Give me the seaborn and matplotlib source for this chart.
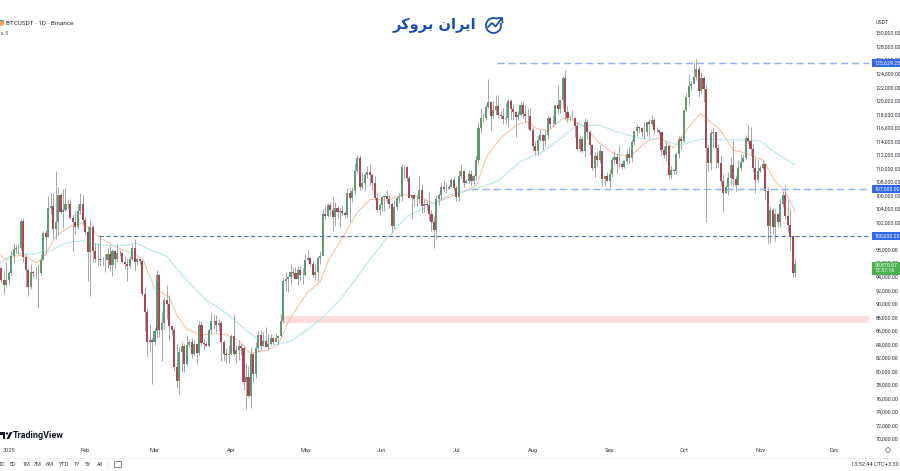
import numpy as np
import pandas as pd
import matplotlib
matplotlib.use("Agg")
import matplotlib.pyplot as plt
from matplotlib.patches import Rectangle, Circle, Arc, Polygon
import seaborn as sns

# ---- daily candles, thousands of USDT, Dec 29 2024 .. Nov 15 2025 ----
closes = [
 93.5, 92.7, 93.5,
 94.6, 97.0, 98.1, 98.2, 98.3, 102.2, 96.9, 95.0, 92.5, 94.7, 94.5, 94.5, 94.5, 96.5, 100.5, 99.9, 104.1, 104.4, 101.0, 102.0, 106.1, 103.6, 103.9, 104.7, 104.7, 102.6, 102.0, 101.3, 103.7, 104.7, 102.4,
 100.6, 97.7, 101.3, 97.8, 96.6, 96.6, 96.5, 96.4, 96.4, 97.4, 95.7, 97.8, 96.6, 97.5, 97.5, 96.1, 95.8, 95.5, 96.6, 98.3, 96.1, 96.6, 96.3, 91.5, 88.7, 84.3, 84.7, 84.3,
 86.0, 94.3, 86.1, 87.2, 90.6, 89.9, 86.7, 86.1, 80.7, 78.6, 82.9, 83.7, 81.1, 83.9, 84.3, 82.6, 84.0, 82.7, 86.8, 84.2, 84.0, 83.8, 86.1, 87.5, 87.4, 86.9, 87.2, 84.4, 82.6, 82.4, 82.5,
 85.2, 82.5, 83.1, 83.8, 83.5, 78.4, 79.1, 76.3, 82.6, 79.6, 83.4, 85.3, 83.7, 84.5, 83.6, 84.0, 84.9, 84.4, 85.0, 85.2, 87.4, 93.4, 93.7, 93.9, 94.7, 94.6, 93.7, 95.0, 94.2, 94.2,
 96.5, 96.8, 95.9, 94.3, 94.7, 96.8, 97.0, 103.2, 102.9, 104.6, 103.8, 102.8, 104.1, 103.5, 103.7, 103.4, 103.1, 106.4, 105.6, 106.7, 109.6, 111.6, 107.3, 107.8, 109.0, 109.4, 109.0, 107.8, 105.6, 103.9, 104.6,
 105.7, 105.9, 105.4, 104.7, 101.5, 104.3, 105.6, 105.7, 110.2, 110.2, 108.6, 105.6, 106.0, 105.4, 105.5, 106.8, 104.5, 104.8, 104.6, 103.3, 102.1, 100.9, 105.4, 106.0, 107.3, 106.9, 107.0, 107.3, 108.3, 107.1,
 105.7, 108.8, 109.6, 107.9, 108.2, 109.2, 108.2, 108.9, 111.2, 116.0, 117.5, 117.4, 119.1, 119.8, 117.7, 118.6, 119.2, 117.9, 117.8, 117.3, 117.4, 120.0, 118.7, 118.3, 117.6, 117.9, 119.4, 118.0, 117.8, 117.8, 115.7,
 113.3, 112.5, 114.2, 115.0, 114.1, 115.0, 117.4, 116.6, 116.5, 119.3, 118.7, 120.1, 123.3, 118.3, 117.4, 117.4, 117.5, 116.2, 112.9, 114.3, 112.5, 116.9, 115.4, 113.5, 110.1, 111.8, 111.2, 112.6, 108.4, 108.8, 108.2,
 109.2, 111.2, 111.7, 110.7, 110.7, 110.2, 111.1, 112.1, 111.5, 113.9, 115.5, 116.1, 116.0, 115.3, 115.3, 116.8, 116.5, 117.1, 115.6, 115.7, 115.3, 112.7, 112.0, 113.3, 109.0, 109.7, 109.6, 112.1, 114.4, 114.0,
 118.6, 120.5, 122.2, 122.4, 123.5, 124.7, 121.4, 123.3, 121.7, 113.0, 110.8, 115.2, 115.3, 113.0, 110.8, 108.2, 106.4, 107.2, 108.6, 110.5, 108.4, 107.6, 110.0, 111.0, 111.6, 114.5, 114.1, 112.9, 110.0, 108.3, 109.6,
 110.1, 110.6, 106.6, 101.5, 103.9, 101.3, 103.3, 102.0, 104.7, 106.0, 103.0, 101.7, 100.0, 94.6, 95.87,
]
highs = [
 95.4, 94.9, 96.1,
 94.9, 97.8, 98.9, 98.7, 98.8, 102.5, 102.7, 97.3, 95.3, 95.8, 95.0, 95.4, 95.9, 97.3, 100.7, 100.9, 105.9, 106.4, 106.3, 109.6, 107.2, 106.3, 106.9, 107.1, 105.3, 105.5, 103.2, 103.7, 104.8, 106.4, 106.0,
 102.8, 101.5, 102.5, 101.7, 99.0, 99.0, 100.1, 96.9, 97.3, 98.3, 98.5, 98.1, 98.0, 98.8, 97.9, 97.7, 97.0, 96.7, 97.0, 98.8, 99.5, 96.9, 96.6, 96.5, 92.5, 89.3, 87.0, 85.0,
 86.5, 95.0, 94.4, 88.9, 91.0, 92.8, 91.3, 86.9, 86.5, 84.1, 83.6, 84.3, 84.0, 85.3, 84.7, 85.0, 84.7, 84.0, 87.4, 87.4, 85.0, 84.5, 86.2, 88.8, 88.5, 88.3, 87.8, 87.5, 84.6, 83.5, 83.9,
 85.5, 88.5, 83.9, 84.7, 84.2, 83.8, 81.2, 80.8, 83.6, 82.7, 84.3, 85.9, 86.1, 85.8, 86.5, 85.5, 85.5, 85.1, 85.6, 85.3, 88.5, 93.8, 94.7, 94.0, 95.8, 95.3, 95.4, 95.6, 95.5, 95.2,
 97.4, 97.9, 96.9, 96.3, 95.9, 97.0, 97.8, 104.0, 104.4, 104.9, 105.0, 105.8, 105.0, 104.4, 104.2, 104.6, 103.7, 107.1, 107.1, 107.3, 110.8, 112.0, 111.9, 109.5, 109.4, 110.4, 110.7, 109.3, 108.9, 106.3, 104.9,
 105.9, 105.9, 106.8, 106.0, 105.0, 105.3, 105.9, 106.4, 110.6, 110.4, 110.4, 108.8, 106.2, 106.2, 106.1, 108.9, 107.7, 105.5, 105.2, 106.5, 103.9, 103.0, 106.1, 106.3, 108.0, 108.3, 107.8, 107.6, 108.5, 108.8,
 107.5, 109.8, 110.5, 109.8, 108.4, 109.8, 109.7, 109.2, 111.9, 116.9, 118.9, 118.2, 119.5, 123.2, 119.9, 120.0, 120.9, 120.9, 118.5, 118.9, 119.7, 120.2, 120.2, 119.5, 118.4, 118.5, 119.8, 119.8, 119.3, 118.8, 118.9,
 116.1, 114.0, 114.8, 115.8, 115.1, 115.7, 117.7, 117.6, 117.9, 119.3, 122.3, 120.3, 123.7, 124.5, 119.2, 117.9, 118.6, 117.6, 116.8, 115.0, 114.8, 117.4, 117.3, 115.6, 113.6, 112.4, 112.6, 113.5, 112.6, 108.9, 109.5,
 109.9, 111.7, 112.6, 112.2, 113.4, 111.0, 111.3, 112.9, 113.2, 114.3, 115.5, 116.6, 116.3, 116.1, 116.8, 116.9, 117.3, 117.9, 117.5, 116.1, 115.8, 115.4, 113.3, 114.0, 113.5, 110.3, 109.8, 112.4, 114.8, 114.8,
 118.6, 121.1, 123.9, 122.9, 125.7, 126.2, 125.1, 124.2, 123.7, 122.5, 113.4, 115.7, 116.0, 115.4, 113.6, 111.9, 109.2, 107.5, 109.4, 111.7, 114.0, 109.0, 111.3, 112.0, 111.9, 115.0, 116.4, 116.1, 113.6, 111.6, 111.2,
 110.5, 111.2, 110.7, 107.2, 104.5, 104.1, 104.0, 103.4, 105.5, 106.7, 107.5, 105.3, 104.0, 99.9, 96.7,
]
lows = [
 93.0, 91.4, 92.5,
 92.8, 94.2, 96.0, 97.5, 97.3, 97.9, 96.1, 92.5, 91.2, 92.2, 93.8, 93.7, 89.3, 94.3, 96.5, 97.3, 99.9, 103.3, 99.6, 99.5, 100.1, 103.3, 101.2, 103.7, 104.1, 102.5, 97.8, 100.3, 101.0, 103.3, 101.6,
 100.2, 93.4, 91.2, 96.2, 96.2, 95.6, 95.6, 95.7, 94.7, 95.3, 94.8, 94.1, 95.2, 96.2, 97.1, 96.0, 95.2, 93.4, 95.2, 96.4, 94.9, 95.7, 95.9, 91.2, 86.0, 82.3, 82.8, 78.2,
 83.9, 85.0, 85.1, 81.5, 86.3, 87.8, 84.7, 85.3, 80.0, 77.5, 76.6, 79.9, 79.9, 80.8, 83.6, 81.9, 82.4, 81.1, 82.4, 83.7, 83.2, 83.7, 83.6, 85.5, 86.3, 85.8, 85.9, 81.6, 81.6, 81.3, 81.3,
 82.4, 82.3, 81.2, 81.7, 82.4, 77.2, 74.5, 76.2, 74.6, 78.4, 79.0, 82.8, 83.1, 83.7, 83.6, 83.1, 83.9, 84.1, 84.3, 83.9, 85.1, 87.1, 91.9, 91.7, 92.8, 93.9, 93.6, 92.8, 93.4, 92.9,
 94.1, 96.3, 95.6, 93.9, 93.5, 93.4, 95.8, 97.3, 102.3, 102.8, 103.0, 100.8, 101.5, 102.6, 101.4, 103.1, 102.6, 102.6, 102.0, 105.0, 106.1, 109.3, 106.8, 106.9, 106.6, 108.6, 107.5, 106.8, 105.3, 103.6, 103.1,
 103.7, 103.7, 104.9, 104.2, 100.4, 101.1, 103.9, 104.9, 105.1, 108.4, 108.1, 105.6, 102.7, 104.5, 104.5, 104.9, 103.4, 103.5, 103.9, 102.3, 100.8, 98.2, 99.6, 104.6, 105.3, 106.6, 106.3, 106.9, 107.2, 106.7,
 105.2, 105.1, 108.6, 107.3, 107.8, 107.8, 107.5, 107.5, 108.3, 110.6, 115.2, 116.9, 117.2, 118.9, 115.7, 117.4, 117.9, 117.4, 117.3, 116.5, 116.5, 116.1, 117.3, 117.1, 114.7, 117.2, 117.8, 117.4, 116.9, 115.8, 115.5,
 112.7, 112.0, 111.9, 114.1, 112.7, 113.3, 114.3, 115.9, 116.3, 116.5, 118.1, 118.2, 118.9, 117.2, 116.8, 117.2, 117.3, 114.7, 112.7, 112.4, 112.4, 111.7, 114.3, 112.0, 109.7, 108.7, 110.4, 110.8, 107.4, 107.4, 108.1,
 107.3, 108.7, 110.5, 109.3, 110.2, 109.9, 110.0, 110.6, 110.8, 110.9, 113.4, 114.8, 115.2, 114.7, 114.4, 114.8, 114.7, 116.3, 115.1, 115.4, 115.1, 111.9, 111.5, 111.1, 108.6, 108.6, 109.1, 109.2, 111.6, 112.7,
 113.9, 118.4, 119.3, 121.6, 122.8, 123.1, 120.6, 121.1, 119.8, 102.0, 109.6, 109.7, 113.0, 110.0, 110.2, 107.4, 103.5, 106.4, 106.1, 107.5, 107.4, 106.7, 107.5, 109.7, 110.9, 111.3, 113.8, 111.9, 109.5, 106.3, 108.0,
 109.4, 109.9, 105.3, 98.9, 98.9, 100.3, 99.2, 101.4, 101.4, 104.3, 102.5, 100.6, 98.0, 94.0, 94.0,
]
first_open = 95.3
first_day = -3   # Dec 29 2024, with Jan 1 2025 as day 0

# moving averages
ma20_days = [-3.5, -1, 2, 6, 11.5, 14.7, 19.4, 24.8, 29.6, 32.9, 37, 43.7, 50.4, 54.5, 56.5, 59.2, 65.3, 68, 72, 77.4, 84.2, 88.2, 93.6, 97.6, 104.4, 109, 113.8, 120.5, 125.9, 129.3, 135.3, 140.8, 146.1, 152.9, 159.5, 166.3, 171.8, 178.6, 186.6, 189.3, 193.3, 198.7, 205.4, 210, 213.5, 218.2, 224.2, 228.4, 233.7, 239, 244.5, 251.3, 258, 263.4, 268.9, 274.2, 279.6, 283, 287.7, 293, 298.5, 305.2, 309.5, 314, 318]
ma20_vals = [97.2, 96.4, 97.0, 97.2, 96.0, 97.2, 100.1, 101.4, 101.9, 101.1, 99.7, 98.3, 97.4, 96.5, 94.5, 92.3, 90.8, 88.3, 86.3, 85.4, 85.6, 85.4, 84.4, 82.7, 83.1, 84.0, 87.8, 91.5, 93.2, 96.4, 99.9, 103.4, 105.4, 105.3, 106.1, 105.8, 104.8, 105.8, 107.0, 107.5, 111.7, 114.4, 116.4, 116.9, 115.9, 115.5, 117.4, 117.1, 115.9, 113.7, 112.2, 111.7, 114.0, 114.6, 113.0, 115.7, 118.1, 117.1, 115.7, 112.7, 112.2, 111.2, 108.3, 106.6, 103.6]
ma50_days = [-3.5, 1.9, 10, 16.7, 23.5, 30, 37, 43.7, 52, 57, 64, 70.7, 80, 88, 96, 100.3, 108, 115, 126, 135, 145, 153, 161, 170.6, 178.6, 186.6, 197.4, 207, 216.3, 223, 229.7, 239.1, 245.9, 255.3, 263.4, 271.5, 280.8, 290.4, 298.5, 304, 310.6, 318]
ma50_vals = [96.0, 97.4, 97.3, 97.8, 99.0, 99.3, 98.7, 98.5, 98.9, 98.0, 97.0, 94.0, 90.5, 88.6, 86.1, 84.9, 83.9, 84.6, 87.6, 91.0, 96.0, 99.7, 102.9, 104.6, 106.1, 106.8, 108.0, 111.0, 112.5, 114.4, 116.3, 116.4, 115.4, 114.4, 114.3, 113.4, 114.4, 114.2, 114.2, 114.0, 112.2, 110.5]

# axis
y_tick_vals = list(range(70, 132, 2))
month_labels = ["2025", "Feb", "Mar", "Apr", "May", "Jun", "Jul", "Aug", "Sep", "Oct", "Nov", "Dec"]
month_days = [0, 31, 59, 90, 120, 151, 181, 212, 243, 273, 304, 334]
range_buttons = ["1D", "5D", "1M", "3M", "6M", "YTD", "1Y", "5Y", "All"]

# price levels
level_top = 125.62925
level_mid = 107.0
level_low = 100.0
zone_low, zone_high = 87.2, 88.2
last_price_label = "95,870.07"

assert len(closes) == len(highs) == len(lows) == 322

sns.set_theme(style="white")
plt.rcParams["font.family"] = ["Roboto", "DejaVu Sans"]

W, H = 900, 471
fig = plt.figure(figsize=(W / 100, H / 100), dpi=100, facecolor="white")
AX_RIGHT, AX_BOTTOM = 869, 445
ax = fig.add_axes([0, 1 - AX_BOTTOM / H, AX_RIGHT / W, AX_BOTTOM / H])

df = pd.DataFrame({"day": np.arange(first_day, first_day + len(closes)),
                   "close": closes, "high": highs, "low": lows})
df["open"] = [first_open] + closes[:-1]
up = df[df.close >= df.open]
dn = df[df.close < df.open]

ax.axhspan(zone_low, zone_high, xmin=280 / AX_RIGHT, xmax=1, color="#fbdddd", lw=0, zorder=1)

sns.lineplot(x=ma20_days, y=ma20_vals, ax=ax, color="#f6bd9f", lw=0.7, estimator=None, sort=False, zorder=2)
sns.lineplot(x=ma50_days, y=ma50_vals, ax=ax, color="#aee2ea", lw=0.7, estimator=None, sort=False, zorder=2)

ax.vlines(df.day, df.low, df.high, color="#a0a0a0", lw=0.65, zorder=3)
ax.bar(up.day, up.close - up.open, bottom=up.open, width=0.84, color="#5f9b72", lw=0, zorder=4)
ax.bar(dn.day, dn.close - dn.open, bottom=dn.open, width=0.84, color="#ab4655", lw=0, zorder=4)

# horizontal levels
ax.hlines(level_top, 197.5, 352, color="#8fb2f5", lw=1.05, linestyles=(0, (4.8, 2.8)), zorder=5)
ax.hlines(level_mid, 187, 352, color="#8fb2f5", lw=1.05, linestyles=(0, (4.8, 2.8)), zorder=5)
ax.hlines(level_low, 36.5, 352, color="#4e74c4", lw=0.8, linestyles=(0, (4, 2.2)), zorder=5)

ax.set_xlim((0 - 8.6) / 2.473, (AX_RIGHT - 8.6) / 2.473)
ax.set_ylim(130 - (AX_BOTTOM - 33) / 6.767, 130 + 33 / 6.767)
ax.yaxis.tick_right()
ax.set_yticks(y_tick_vals)
ax.set_yticklabels([f"{v * 1000:,.2f}" for v in y_tick_vals], fontsize=3.75, color="#2a2e39")
ax.set_xticks(month_days)
ax.set_xticklabels(month_labels, fontsize=4.1, color="#3c3f48")
ax.tick_params(axis="y", length=0, pad=5)
ax.tick_params(axis="x", length=0, pad=2)
for s in ax.spines.values():
    s.set_visible(False)
ax.patch.set_alpha(0)

# overlay in pixel coordinates for the chart furniture
ov = fig.add_axes([0, 0, 1, 1], zorder=10)
ov.set_xlim(0, W)
ov.set_ylim(H, 0)
ov.axis("off")
ov.patch.set_alpha(0)

def tag(yc, h, color, lines):
    ov.add_patch(Rectangle((872, yc - h / 2), 30, h, color=color, lw=0))
    n = len(lines)
    for i, t in enumerate(lines):
        ov.text(875, yc + (i - (n - 1) / 2) * 6, t, fontsize=3.75, color="white", va="center", ha="left")

tag(63, 8, "#3268e8", [f"{level_top * 1000:,.2f}"])
tag(188.7, 8, "#3268e8", [f"{level_mid * 1000:,.2f}"])
tag(236, 8, "#3268e8", [f"{level_low * 1000:,.2f}"])
tag(268, 13, "#4caf50", [last_price_label, "13:37:16"])

# header
ov.add_patch(Circle((1.5, 23), 2.8, color="#f0a64b", lw=0))
ov.add_patch(Arc((1.5, 23), 5.4, 5.4, theta1=180, theta2=330, color="#2a9d8f", lw=0.7))
ov.text(6, 23.5, "BTCUSDT · 1D · Binance", fontsize=4.6, color="#2a2e39", va="center", ha="left")
ov.text(0.5, 33.5, "∨ 5", fontsize=3.8, color="#444444", va="center", ha="left")
ov.text(876, 22.5, "USDT", fontsize=3.75, color="#2a2e39", va="center", ha="left")

# logo: the Persian name written with presentation forms in visual order
logo = "\uFEAE\uFB90\uFEED\uFEAE\uFE91 \uFEE5\uFE8D\uFEAE\uFBFE\uFE8D"
ov.text(434, 25, logo, fontsize=10.5, fontweight="bold", color="#1a4fb0", va="center", ha="center",
        family="DejaVu Sans")
ov.add_patch(Arc((493.5, 25.5), 15, 15, theta1=-20, theta2=300, color="#1a4fb0", lw=1.3))
ov.plot([488, 492, 495.5, 501.5], [27, 23, 26.5, 18.5], color="#1a4fb0", lw=1.3)
ov.plot([497.5, 502, 502.5], [18, 18, 22.5], color="#1a4fb0", lw=1.3)

# TradingView watermark
ov.add_patch(Polygon([(0, 432), (5, 432), (5, 439), (2.5, 439), (2.5, 435), (0, 435)], color="#131722", lw=0))
ov.add_patch(Polygon([(6.5, 439), (10, 432), (12.5, 432), (9, 439)], color="#131722", lw=0))
ov.add_patch(Circle((7, 433.5), 1.2, color="#131722", lw=0))
ov.text(13, 435.5, "TradingView", fontsize=6.5, fontweight="bold", color="#131722", va="center", ha="left")

# bottom bar
ov.plot([0, W], [458, 458], color="#eef0f4", lw=0.6)
for t, x in zip(range_buttons, [2, 13, 26, 38, 50, 64, 77, 88, 100]):
    ov.text(x, 464, t, fontsize=3.9, color="#3c3f48", va="center", ha="center")
ov.plot([108, 108], [460, 468], color="#dddddd", lw=0.5)
ov.add_patch(Rectangle((114, 461), 7, 6, fill=False, ec="#555555", lw=0.5))
ov.add_patch(Circle((888, 450), 2.3, fill=False, ec="#666666", lw=0.5))
ov.text(899, 464, "13:52:44 UTC+3:30", fontsize=4.1, color="#3c3f48", va="center", ha="right")

fig.savefig("out.png", dpi=100)
